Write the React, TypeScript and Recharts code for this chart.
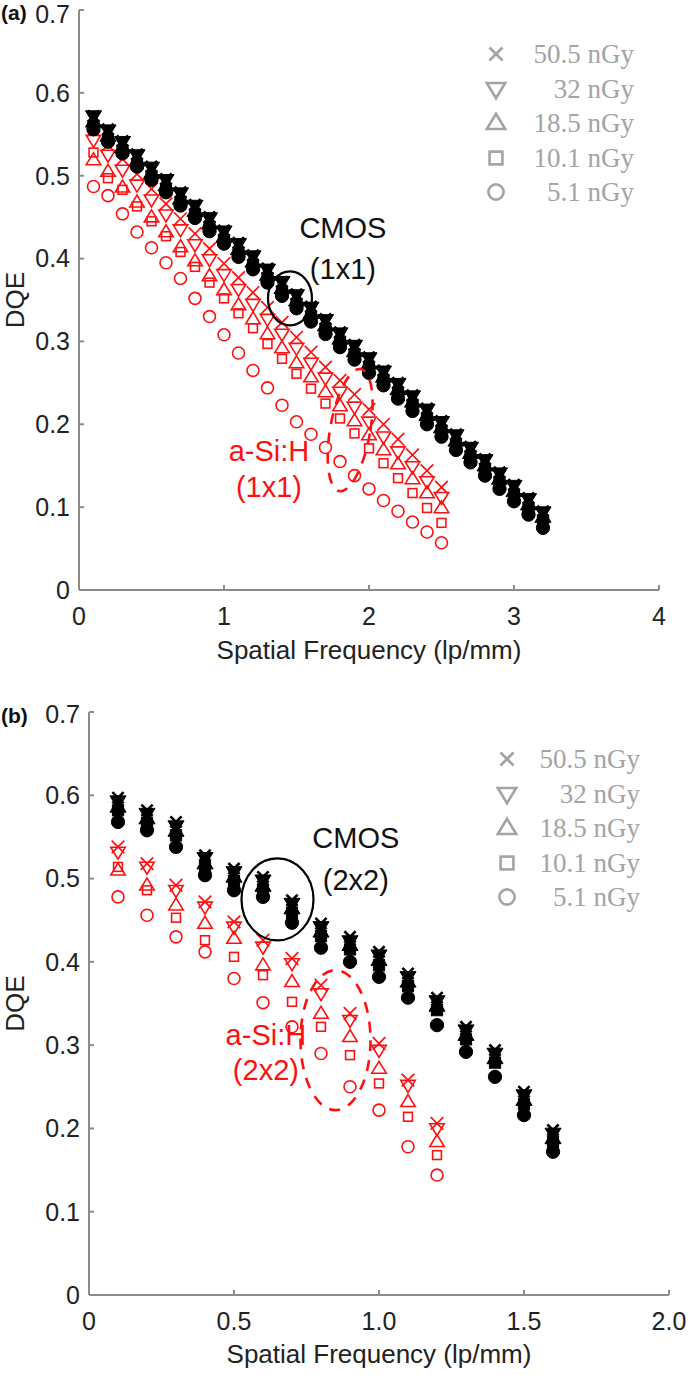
import React from "react";
import { Legend, ReferenceDot, Scatter, ScatterChart, XAxis, YAxis } from "recharts";

// ---- data ----
const doses = ["50.5 nGy", "32 nGy", "18.5 nGy", "10.1 nGy", "5.1 nGy"];
const kinds = ["x", "down", "up", "square", "circle"];

// (a) 1x1 binning
const freqCmosA = [0.1, 0.2, 0.3, 0.4, 0.5, 0.6, 0.7, 0.8, 0.9, 1.0, 1.1, 1.2, 1.3, 1.4, 1.5, 1.6, 1.7, 1.8, 1.9, 2.0, 2.1, 2.2, 2.3, 2.4, 2.5, 2.6, 2.7, 2.8, 2.9, 3.0, 3.1, 3.2];
const cmosA505 = [0.572, 0.556, 0.542, 0.526, 0.511, 0.496, 0.48, 0.465, 0.45, 0.434, 0.419, 0.404, 0.388, 0.372, 0.357, 0.342, 0.327, 0.311, 0.296, 0.281, 0.265, 0.25, 0.235, 0.219, 0.204, 0.188, 0.173, 0.158, 0.142, 0.127, 0.111, 0.095];
const cmosA32 = [0.572, 0.555, 0.541, 0.525, 0.51, 0.495, 0.479, 0.464, 0.449, 0.433, 0.418, 0.403, 0.387, 0.372, 0.356, 0.341, 0.326, 0.31, 0.295, 0.28, 0.264, 0.249, 0.234, 0.218, 0.203, 0.187, 0.172, 0.157, 0.141, 0.126, 0.11, 0.094];
const cmosA185 = [0.565, 0.548, 0.534, 0.518, 0.503, 0.488, 0.472, 0.457, 0.442, 0.426, 0.411, 0.396, 0.38, 0.364, 0.349, 0.334, 0.319, 0.303, 0.288, 0.273, 0.257, 0.242, 0.227, 0.211, 0.196, 0.18, 0.165, 0.15, 0.134, 0.119, 0.103, 0.088];
const cmosA101 = [0.56, 0.544, 0.53, 0.514, 0.499, 0.484, 0.468, 0.453, 0.438, 0.422, 0.407, 0.392, 0.376, 0.36, 0.345, 0.33, 0.315, 0.299, 0.284, 0.269, 0.253, 0.238, 0.223, 0.207, 0.192, 0.176, 0.161, 0.146, 0.13, 0.115, 0.099, 0.084];
const cmosA51 = [0.556, 0.541, 0.527, 0.511, 0.495, 0.48, 0.464, 0.449, 0.433, 0.418, 0.402, 0.387, 0.371, 0.355, 0.34, 0.324, 0.309, 0.293, 0.278, 0.262, 0.247, 0.231, 0.216, 0.2, 0.185, 0.169, 0.154, 0.138, 0.122, 0.107, 0.091, 0.075];

const freqAsiA = [0.1, 0.2, 0.3, 0.4, 0.5, 0.6, 0.7, 0.8, 0.9, 1.0, 1.1, 1.2, 1.3, 1.4, 1.5, 1.6, 1.7, 1.8, 1.9, 2.0, 2.1, 2.2, 2.3, 2.4, 2.5];
const asiA505 = [0.555, 0.537, 0.52, 0.502, 0.484, 0.466, 0.448, 0.43, 0.412, 0.394, 0.377, 0.359, 0.341, 0.323, 0.305, 0.287, 0.269, 0.253, 0.236, 0.218, 0.2, 0.182, 0.163, 0.144, 0.124];
const asiA32 = [0.543, 0.525, 0.507, 0.489, 0.471, 0.453, 0.435, 0.417, 0.399, 0.381, 0.363, 0.345, 0.327, 0.309, 0.292, 0.274, 0.256, 0.239, 0.221, 0.203, 0.185, 0.167, 0.149, 0.131, 0.112];
const asiA185 = [0.519, 0.505, 0.486, 0.468, 0.45, 0.432, 0.414, 0.397, 0.379, 0.362, 0.344, 0.327, 0.309, 0.292, 0.274, 0.257, 0.239, 0.222, 0.204, 0.187, 0.169, 0.152, 0.134, 0.117, 0.099];
const asiA101 = [0.528, 0.497, 0.483, 0.463, 0.445, 0.427, 0.408, 0.39, 0.371, 0.352, 0.334, 0.316, 0.297, 0.279, 0.261, 0.243, 0.225, 0.207, 0.189, 0.171, 0.153, 0.135, 0.117, 0.099, 0.081];
const asiA51 = [0.487, 0.476, 0.454, 0.432, 0.413, 0.395, 0.376, 0.352, 0.33, 0.308, 0.286, 0.265, 0.244, 0.223, 0.203, 0.188, 0.172, 0.155, 0.138, 0.122, 0.108, 0.095, 0.082, 0.07, 0.057];

// (b) 2x2 binning
const freqCmosB = [0.1, 0.2, 0.3, 0.4, 0.5, 0.6, 0.7, 0.8, 0.9, 1.0, 1.1, 1.2, 1.3, 1.4, 1.5, 1.6];
const cmosB505 = [0.597, 0.582, 0.568, 0.528, 0.512, 0.502, 0.474, 0.446, 0.43, 0.412, 0.386, 0.357, 0.322, 0.294, 0.244, 0.198];
const cmosB32 = [0.593, 0.578, 0.563, 0.525, 0.508, 0.498, 0.47, 0.442, 0.425, 0.408, 0.382, 0.353, 0.318, 0.29, 0.24, 0.194];
const cmosB185 = [0.586, 0.572, 0.557, 0.518, 0.502, 0.491, 0.464, 0.436, 0.42, 0.402, 0.376, 0.347, 0.312, 0.284, 0.234, 0.188];
const cmosB101 = [0.582, 0.567, 0.552, 0.514, 0.497, 0.487, 0.459, 0.431, 0.415, 0.396, 0.371, 0.342, 0.307, 0.279, 0.229, 0.184];
const cmosB51 = [0.568, 0.558, 0.538, 0.504, 0.486, 0.478, 0.447, 0.417, 0.4, 0.382, 0.357, 0.324, 0.292, 0.262, 0.216, 0.172];

const freqAsiB = [0.1, 0.2, 0.3, 0.4, 0.5, 0.6, 0.7, 0.8, 0.9, 1.0, 1.1, 1.2];
const asiB505 = [0.538, 0.518, 0.492, 0.472, 0.448, 0.426, 0.404, 0.372, 0.338, 0.302, 0.258, 0.206];
const asiB32 = [0.532, 0.514, 0.486, 0.466, 0.442, 0.418, 0.398, 0.362, 0.33, 0.294, 0.252, 0.2];
const asiB185 = [0.51, 0.492, 0.468, 0.446, 0.428, 0.396, 0.376, 0.338, 0.31, 0.272, 0.232, 0.184];
const asiB101 = [0.514, 0.486, 0.453, 0.426, 0.406, 0.384, 0.352, 0.322, 0.288, 0.254, 0.214, 0.168];
const asiB51 = [0.478, 0.456, 0.43, 0.412, 0.38, 0.351, 0.322, 0.29, 0.25, 0.222, 0.178, 0.144];

const yTicks = [0, 0.1, 0.2, 0.3, 0.4, 0.5, 0.6, 0.7];
const xTicksA = [0, 1, 2, 3, 4];
const xTicksB = [0, 0.5, 1.0, 1.5, 2.0];

// annotations, in data units
const notesA = [
  { x: 1.82, y: 0.437, text: "CMOS", red: false },
  { x: 1.82, y: 0.388, text: "(1x1)", red: false },
  { x: 1.31, y: 0.168, text: "a-Si:H", red: true },
  { x: 1.31, y: 0.124, text: "(1x1)", red: true },
];
const ringsA = [
  { x: 1.455, y: 0.352, rx: 22, ry: 27, red: false, rot: 0 },
  { x: 1.87, y: 0.193, rx: 20, ry: 62, red: true, rot: 10 },
];
const notesB = [
  { x: 0.92, y: 0.549, text: "CMOS", red: false },
  { x: 0.92, y: 0.498, text: "(2x2)", red: false },
  { x: 0.61, y: 0.312, text: "a-Si:H", red: true },
  { x: 0.61, y: 0.27, text: "(2x2)", red: true },
];
const ringsB = [
  { x: 0.65, y: 0.475, rx: 36, ry: 41, red: false, rot: 0 },
  { x: 0.85, y: 0.306, rx: 35, ry: 70, red: true, rot: 0 },
];

// ---- styling ----
const FONT = "'Liberation Sans', Arial, sans-serif";
const RED = "#ff1010";
const AXIS = "#8c8c8c";
const GREY = "#a4a4a4";

const pts = (xs: number[], ys: number[]) => xs.map((x, i) => ({ x, y: ys[i] }));

function Marker({ cx, cy, kind, color, filled, s = 6, sw = 1.6 }: any) {
  const fill = filled ? color : "none";
  if (cx == null || cy == null) return null;
  switch (kind) {
    case "x":
      return (
        <path
          d={`M${cx - s},${cy - s}L${cx + s},${cy + s}M${cx - s},${cy + s}L${cx + s},${cy - s}`}
          stroke={color}
          strokeWidth={filled ? 2.6 : sw + 0.1}
          fill="none"
        />
      );
    case "down":
      return (
        <polygon
          points={`${cx - s * 1.15},${cy - s * 0.75} ${cx + s * 1.15},${cy - s * 0.75} ${cx},${cy + s * 1.15}`}
          fill={fill}
          stroke={color}
          strokeWidth={sw}
        />
      );
    case "up":
      return (
        <polygon
          points={`${cx - s * 1.15},${cy + s * 0.75} ${cx + s * 1.15},${cy + s * 0.75} ${cx},${cy - s * 1.15}`}
          fill={fill}
          stroke={color}
          strokeWidth={sw}
        />
      );
    case "square":
      return <rect x={cx - s * 0.8} y={cy - s * 0.8} width={s * 1.6} height={s * 1.6} fill={fill} stroke={color} strokeWidth={sw} />;
    default:
      return <circle cx={cx} cy={cy} r={s * 0.95} fill={fill} stroke={color} strokeWidth={sw} />;
  }
}

function DoseLegend({ markerX, textRight }: any) {
  return (
    <div style={{ position: "relative", width: textRight - markerX + 18, fontFamily: "'Liberation Serif', serif" }}>
      {doses.map((d, i) => (
        <div key={d} style={{ display: "flex", alignItems: "center", height: 34.5 }}>
          <svg width={28} height={28}>
            <Marker cx={14} cy={14} kind={kinds[i]} color={GREY} filled={false} s={kinds[i] === "x" ? 6.5 : 8} sw={2.6} />
          </svg>
          <div style={{ flex: 1, textAlign: "right", fontSize: 27, color: GREY, lineHeight: "34px" }}>{d}</div>
        </div>
      ))}
    </div>
  );
}

function Panel({ cmos, asi, xDomain, xTicks, xFmt, yAxisW, margin, height, legendPos, notes, rings, titleOffset }: any) {
  const tickStyle = { fontSize: 25, fill: "#222", fontFamily: FONT };
  return (
    <ScatterChart width={689} height={height} margin={margin}>
      <XAxis
        xAxisId="b"
        type="number"
        dataKey="x"
        domain={xDomain}
        ticks={xTicks}
        tickFormatter={xFmt}
        height={72}
        stroke={AXIS}
        strokeWidth={2}
        tickSize={-5}
        tickMargin={22}
        tick={tickStyle}
        label={{ value: "Spatial Frequency (lp/mm)", position: "insideBottom", offset: titleOffset, style: { fontSize: 26, fill: "#222", fontFamily: FONT } }}
      />
      <XAxis xAxisId="t" orientation="top" type="number" domain={xDomain} ticks={xTicks} height={0} stroke={AXIS} strokeWidth={2} tickSize={-5} tick={false} />
      <YAxis
        yAxisId="l"
        type="number"
        dataKey="y"
        domain={[0, 0.7]}
        ticks={yTicks}
        width={yAxisW}
        stroke={AXIS}
        strokeWidth={2}
        tickSize={-5}
        tickMargin={14}
        tick={tickStyle}
        label={{ value: "DQE", angle: -90, position: "insideLeft", offset: 15, style: { textAnchor: "middle", fontSize: 26, fill: "#222", fontFamily: FONT } }}
      />
      <YAxis yAxisId="r" orientation="right" type="number" domain={[0, 0.7]} ticks={yTicks} width={0} stroke={AXIS} strokeWidth={2} tickSize={-5} tick={false} />
      {asi.map((ser: any, i: number) => (
        <Scatter
          key={"asi" + i}
          xAxisId="b"
          yAxisId="l"
          data={ser}
          isAnimationActive={false}
          shape={(p: any) => <Marker cx={p.cx} cy={p.cy} kind={kinds[i]} color={RED} filled={false} s={kinds[i] === "square" ? 5.5 : 6.3} />}
        />
      ))}
      {cmos.map((ser: any, i: number) => (
        <Scatter
          key={"cmos" + i}
          xAxisId="b"
          yAxisId="l"
          data={ser}
          isAnimationActive={false}
          shape={(p: any) => <Marker cx={p.cx} cy={p.cy} kind={kinds[i]} color="#000" filled s={kinds[i] === "x" ? 5.6 : 7} sw={1} />}
        />
      ))}
      {rings.map((r: any, i: number) => (
        <ReferenceDot
          key={"ring" + i}
          xAxisId="b"
          yAxisId="l"
          x={r.x}
          y={r.y}
          r={1}
          shape={(p: any) => (
            <ellipse
              cx={p.cx}
              cy={p.cy}
              rx={r.rx}
              ry={r.ry}
              transform={`rotate(${r.rot} ${p.cx} ${p.cy})`}
              fill="none"
              stroke={r.red ? RED : "#000"}
              strokeWidth={r.red ? 2.6 : 2.2}
              strokeDasharray={r.red ? "11 9" : undefined}
            />
          )}
        />
      ))}
      {notes.map((n: any, i: number) => (
        <ReferenceDot
          key={"note" + i}
          xAxisId="b"
          yAxisId="l"
          x={n.x}
          y={n.y}
          r={1}
          shape={(p: any) => (
            <text x={p.cx} y={p.cy} textAnchor="middle" dominantBaseline="central" fontSize={29} fontFamily={FONT} fill={n.red ? RED : "#111"}>
              {n.text}
            </text>
          )}
        />
      ))}
      <Legend
        layout="vertical"
        align="center"
        verticalAlign="middle"
        wrapperStyle={{ position: "absolute", left: legendPos.left, top: legendPos.top, width: legendPos.width }}
        content={() => <DoseLegend markerX={legendPos.markerX} textRight={legendPos.textRight} />}
      />
    </ScatterChart>
  );
}

export default function App() {
  const cmosA = [cmosA505, cmosA32, cmosA185, cmosA101, cmosA51].map((ys) => pts(freqCmosA, ys));
  const asiA = [asiA505, asiA32, asiA185, asiA101, asiA51].map((ys) => pts(freqAsiA, ys));
  const cmosB = [cmosB505, cmosB32, cmosB185, cmosB101, cmosB51].map((ys) => pts(freqCmosB, ys));
  const asiB = [asiB505, asiB32, asiB185, asiB101, asiB51].map((ys) => pts(freqAsiB, ys));
  const letter = { position: "absolute" as const, left: 1, fontSize: 21, fontWeight: 700, fontFamily: FONT, color: "#111" };

  return (
    <div style={{ position: "absolute", left: 0, top: 0, width: 689, height: 1375, background: "#fff", fontFamily: FONT }}>
      <div style={{ position: "absolute", left: 0, top: 0 }}>
        <Panel
          cmos={cmosA}
          asi={asiA}
          xDomain={[0, 4]}
          xTicks={xTicksA}
          xFmt={(v: number) => String(v)}
          yAxisW={79}
          margin={{ top: 10, right: 30, bottom: 10, left: 0 }}
          height={672}
          titleOffset={3}
          legendPos={{ left: 482, top: 37, width: 170, markerX: 496, textRight: 630 }}
          notes={notesA}
          rings={ringsA}
        />
      </div>
      <div style={{ position: "absolute", left: 0, top: 700 }}>
        <Panel
          cmos={cmosB}
          asi={asiB}
          xDomain={[0, 2]}
          xTicks={xTicksB}
          xFmt={(v: number) => (v === 0 ? "0" : v.toFixed(1))}
          yAxisW={89}
          margin={{ top: 12, right: 20, bottom: 8, left: 0 }}
          height={675}
          titleOffset={4}
          legendPos={{ left: 493, top: 42, width: 170, markerX: 507, textRight: 636 }}
          notes={notesB}
          rings={ringsB}
        />
      </div>
      <div style={{ ...letter, top: 1 }}>(a)</div>
      <div style={{ ...letter, top: 704 }}>(b)</div>
    </div>
  );
}
